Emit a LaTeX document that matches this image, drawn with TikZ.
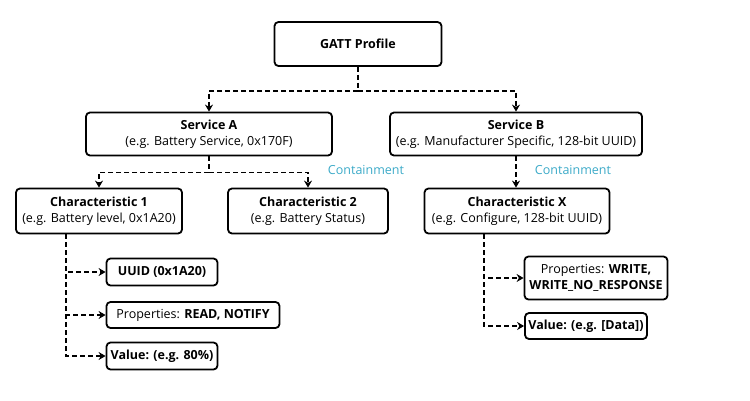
\documentclass[tikz,border=0pt]{standalone}
\usepackage{fontspec}
\setmainfont{Open Sans}
\usetikzlibrary{positioning,arrows.meta}
\definecolor{contain}{RGB}{60,170,200}
\tikzset{box/.style={draw,line width=1.8pt,rounded corners=4pt,fill=white,align=center,font=\fontsize{12.5}{16}\selectfont}}
\tikzset{leaf/.style={box,inner sep=3pt}}
\tikzset{link/.style={draw,line width=1.7pt,dash pattern=on 5pt off 3pt,-{Stealth[length=7pt,width=8pt]}}}
\tikzset{note/.style={text=contain,font=\fontsize{12.5}{14}\selectfont}}
\begin{document}
\begin{tikzpicture}[x=1pt,y=-1pt]
        \useasboundingbox (0,0) rectangle (750,400);
        \node[box,minimum width=167pt,minimum height=44pt] (gatt) at (358,44) {\textbf{GATT Profile}};
        \node[box,minimum width=246pt,minimum height=43pt] (srva) at (209,134) {\textbf{Service A}\\(e.g. Battery Service, 0x170F)};
        \node[box,minimum width=252pt,minimum height=43pt,inner xsep=2pt] (srvb) at (516,134) {\textbf{Service B}\\(e.g. Manufacturer Specific, 128-bit UUID)};
        \node[box,minimum width=166pt,minimum height=45pt,inner xsep=2pt] (char1) at (99,211) {\textbf{Characteristic 1}\\(e.g. Battery level, 0x1A20)};
        \node[box,minimum width=160pt,minimum height=45pt] (char2) at (308,211) {\textbf{Characteristic 2}\\(e.g. Battery Status)};
        \node[box,minimum width=185pt,minimum height=45pt] (charx) at (517,211) {\textbf{Characteristic X}\\(e.g. Configure, 128-bit UUID)};
        % attributes
        \node[leaf,minimum width=111pt,minimum height=27pt] (uuid) at (162,272) {\textbf{UUID (0x1A20)}};
        \node[leaf,minimum width=173pt,minimum height=26pt] (props) at (193,315) {Properties: \textbf{READ, NOTIFY}};
        \node[leaf,minimum width=111pt,minimum height=27pt] (value) at (162,356) {\textbf{Value: (e.g. 80\%)}};
        \node[leaf,minimum width=143pt,minimum height=43pt] (propsx) at (596,278) {Properties: \textbf{WRITE,}\\\textbf{WRITE\_NO\_RESPONSE}};
        \node[leaf,minimum width=122pt,minimum height=26pt] (valuex) at (586,326) {\textbf{Value: (e.g. [Data])}};
        \node[note] (conta) at (366,170) {Containment};
        \node[note] (contb) at (573,170) {Containment};
        \coordinate (trunk1) at (66,234);
        \coordinate (trunkx) at (484,234);
        % connectors
        \path[link] (gatt.south) -- ++(0,24) -| (srva.north);
        \path[link] (gatt.south) -- ++(0,24) -| (srvb.north);
        \path[link] (srva.south) -- ++(0,16) -| (char1.north);
        \path[link] (srva.south) -- ++(0,16) -| (char2.north);
        \path[link] (srvb.south) -- (charx.north -| srvb.south);
        \path[link] (trunk1) |- (uuid.west);
        \path[link] (trunk1) |- (props.west);
        \path[link] (trunk1) |- (value.west);
        \path[link] (trunkx) |- (propsx.west);
        \path[link] (trunkx) |- (valuex.west);
\end{tikzpicture}
\end{document}
